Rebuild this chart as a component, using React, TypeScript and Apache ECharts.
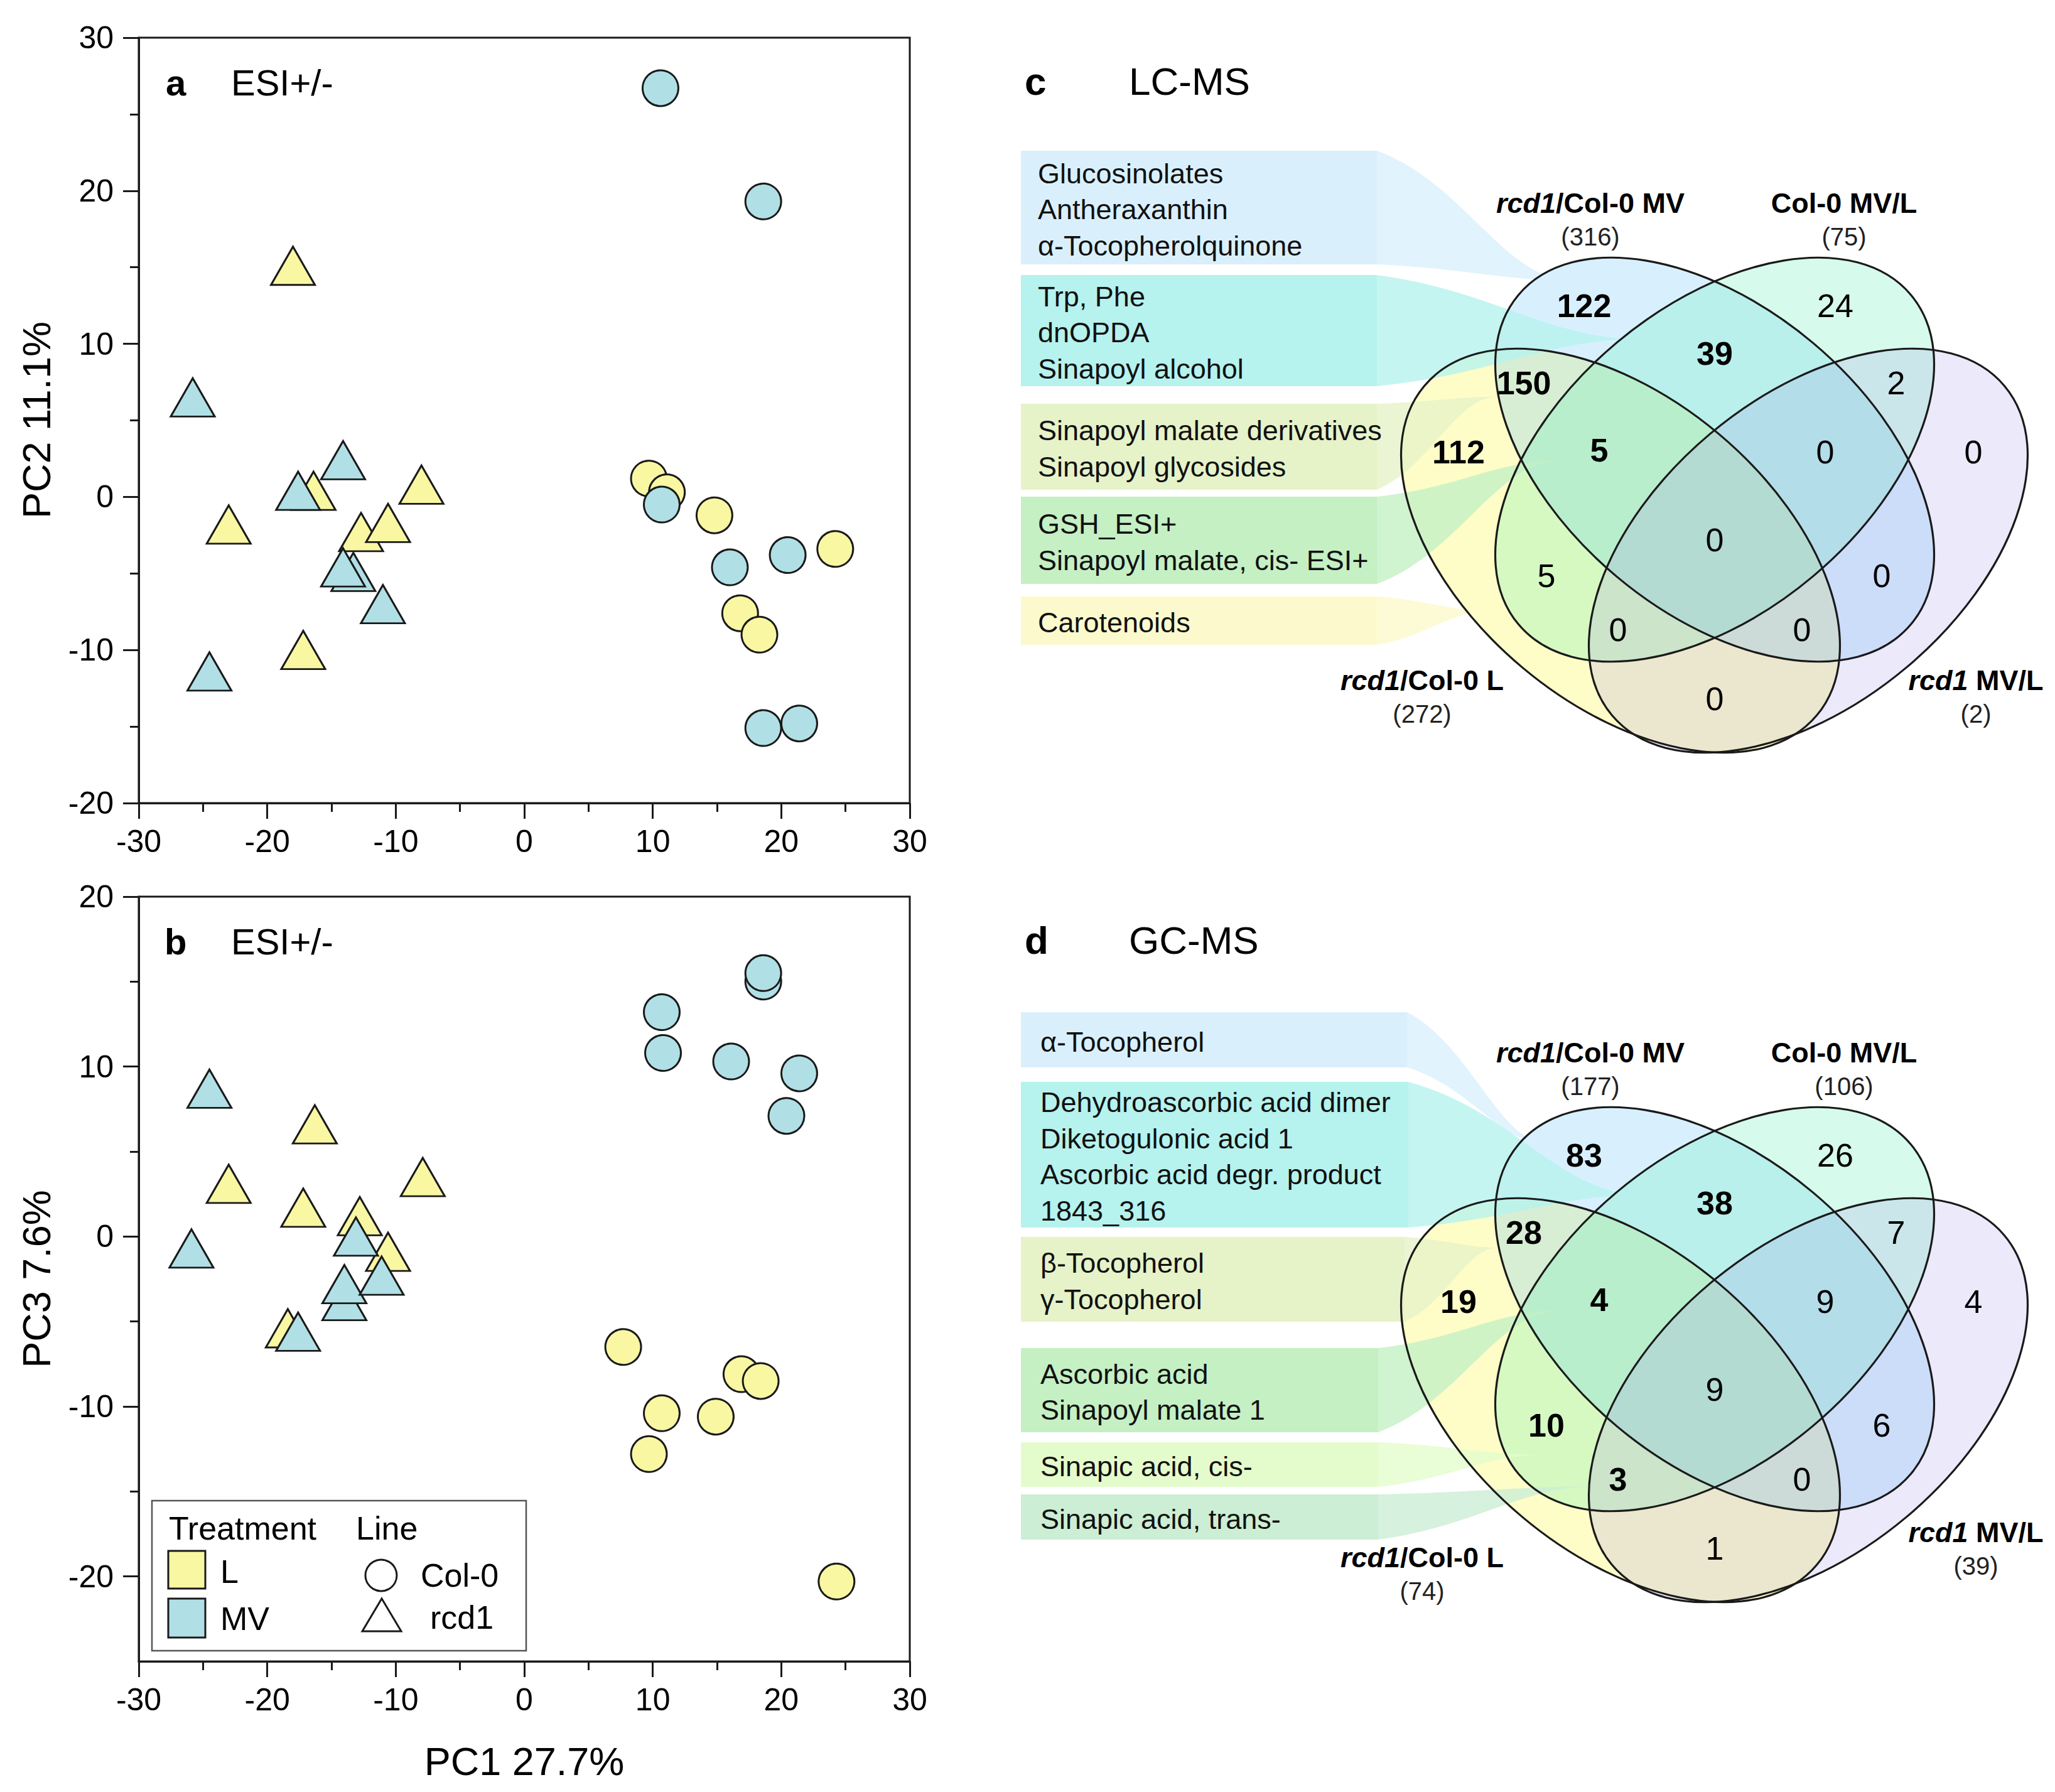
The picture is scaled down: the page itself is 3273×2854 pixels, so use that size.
import React, { useEffect, useRef } from "react";
import * as echarts from "echarts";

const W = 3273;
const H = 2854;
const FONT = '"Liberation Sans", Arial, Helvetica, sans-serif';
const YELLOW = "#f9f7a2";
const BLUE = "#b0e0e6";
const EDGE = "#1a1a1a";

// ---------- tick labels ----------
const xTickLabels = [-30, -20, -10, 0, 10, 20, 30];
const yTickLabelsA = [-20, -10, 0, 10, 20, 30];
const yTickLabelsB = [-20, -10, 0, 10, 20];

// ---------- panel a : PC1 vs PC2 ----------
const aL_col0 = [[9.7, 1.2], [11.1, 0.3], [14.8, -1.2], [24.2, -3.4], [16.8, -7.6], [18.3, -9.0]];
const aL_rcd1 = [[-18.0, 15.1], [-23.0, -1.8], [-16.4, 0.4], [-12.7, -2.3], [-10.6, -1.7], [-8.0, 0.8], [-17.2, -10.0]];
const aMV_rcd1 = [[-25.8, 6.5], [-14.1, 2.4], [-17.6, 0.4], [-13.3, -4.9], [-14.1, -4.6], [-11.0, -7.0], [-24.5, -11.4]];
const aMV_col0 = [[10.6, 26.7], [18.6, 19.3], [10.7, -0.5], [16.0, -4.6], [20.5, -3.8], [18.6, -15.1], [21.4, -14.8]];

// ---------- panel b : PC1 vs PC3 ----------
const bL_col0 = [[7.7, -6.5], [10.7, -10.4], [9.7, -12.8], [14.9, -10.6], [16.9, -8.1], [18.4, -8.5], [24.3, -20.3]];
const bL_rcd1 = [[-23.0, 3.1], [-16.3, 6.6], [-17.2, 1.7], [-12.8, 1.2], [-10.6, -0.9], [-7.9, 3.5], [-18.4, -5.4]];
const bMV_rcd1 = [[-24.5, 8.7], [-25.9, -0.7], [-13.1, 0.0], [-14.0, -3.8], [-14.0, -2.8], [-11.1, -2.3], [-17.6, -5.6]];
const bMV_col0 = [[10.7, 13.2], [10.8, 10.8], [16.1, 10.3], [18.6, 15.0], [18.6, 15.5], [21.4, 9.6], [20.4, 7.1]];

// ---------- Venn diagrams ----------
// set order: rcd1/Col-0 MV, Col-0 MV/L, rcd1/Col-0 L, rcd1 MV/L
const setLabels = [["rcd1", "/Col-0 MV"], ["", "Col-0 MV/L"], ["rcd1", "/Col-0 L"], ["rcd1", " MV/L"]];
const lcmsTotals = [316, 75, 272, 2];
const gcmsTotals = [177, 106, 74, 39];
const lcmsCounts = [122, 24, 39, 150, 2, 112, 5, 0, 0, 0, 5, 0, 0, 0, 0];
const gcmsCounts = [83, 26, 38, 28, 7, 19, 4, 9, 4, 9, 10, 6, 3, 0, 1];
const lcmsBold = [0, 2, 3, 5, 6];
const gcmsBold = [0, 2, 3, 5, 6, 10, 12];

const lcmsCallouts = [
  ["Glucosinolates", "Antheraxanthin", "α-Tocopherolquinone"],
  ["Trp, Phe", "dnOPDA", "Sinapoyl alcohol"],
  ["Sinapoyl malate derivatives", "Sinapoyl glycosides"],
  ["GSH_ESI+", "Sinapoyl malate, cis- ESI+"],
  ["Carotenoids"],
];
const gcmsCallouts = [
  ["α-Tocopherol"],
  ["Dehydroascorbic acid dimer", "Diketogulonic acid 1", "Ascorbic acid degr. product", "1843_316"],
  ["β-Tocopherol", "γ-Tocopherol"],
  ["Ascorbic acid", "Sinapoyl malate 1"],
  ["Sinapic acid, cis-"],
  ["Sinapic acid, trans-"],
];

// ---------- layout (positions / styles) ----------
const ANG = (40 * Math.PI) / 180;
const RX = 408;
const RY = 243;
const ellipseDefs = [
  { dx: -150, dy: 145, rot: -ANG, fill: "rgba(255,250,100,0.36)" },
  { dx: 0, dy: 0, rot: -ANG, fill: "rgba(100,195,250,0.25)" },
  { dx: 0, dy: 0, rot: ANG, fill: "rgba(90,240,180,0.25)" },
  { dx: 149, dy: 145, rot: ANG, fill: "rgba(165,155,230,0.22)" },
];
const regionOff = [
  [-208, -245], [192, -245], [0, -169], [-304, -122], [289, -122],
  [-408, -12], [-184, -15], [176, -12], [412, -12], [0, 128],
  [-268, 185], [266, 185], [-154, 271], [139, 271], [0, 381],
];

const lcmsBoxes = [
  { y0: 240, y1: 421, x1: 2193, color: "#d9f0fc", tip: [2505, 447] },
  { y0: 438, y1: 615, x1: 2193, color: "#b6f2ee", tip: [2612, 540] },
  { y0: 643, y1: 780, x1: 2193, color: "#e6f2c8", tip: [2385, 632] },
  { y0: 791, y1: 930, x1: 2193, color: "#c4f0c4", tip: [2487, 733] },
  { y0: 950, y1: 1027, x1: 2193, color: "#fcfacc", tip: [2373, 973] },
];
const gcmsBoxes = [
  { y0: 1612, y1: 1700, x1: 2241, color: "#d9f0fc", tip: [2468, 1823] },
  { y0: 1723, y1: 1955, x1: 2243, color: "#b6f2ee", tip: [2615, 1903] },
  { y0: 1970, y1: 2105, x1: 2237, color: "#e6f2c8", tip: [2387, 1987] },
  { y0: 2147, y1: 2281, x1: 2195, color: "#c4f0c4", tip: [2487, 2087] },
  { y0: 2297, y1: 2368, x1: 2195, color: "#e4fccc", tip: [2460, 2317] },
  { y0: 2380, y1: 2452, x1: 2195, color: "#cceed4", tip: [2545, 2367] },
];

function txt(x: number, y: number, text: string, size: number, extra: any = {}) {
  return {
    type: "text",
    x,
    y,
    silent: true,
    style: {
      text,
      fontSize: size,
      fontFamily: FONT,
      fill: "#000",
      align: "left",
      verticalAlign: "middle",
      ...extra,
    },
  };
}

function cubic(p0: number[], p1: number[], p2: number[], p3: number[], t: number) {
  const u = 1 - t;
  return [
    u * u * u * p0[0] + 3 * u * u * t * p1[0] + 3 * u * t * t * p2[0] + t * t * t * p3[0],
    u * u * u * p0[1] + 3 * u * u * t * p1[1] + 3 * u * t * t * p2[1] + t * t * t * p3[1],
  ];
}

function wedgePoints(x0: number, yT: number, yB: number, tx: number, ty: number) {
  const dx = tx - x0;
  const pts: number[][] = [[x0 - 2, yT]];
  const N = 30;
  const t0 = [x0, yT];
  const t1 = [x0 + 0.45 * dx, yT + 0.25 * (ty - yT)];
  const t2 = [x0 + 0.65 * dx, ty];
  const tip = [tx, ty];
  for (let i = 0; i <= N; i++) pts.push(cubic(t0, t1, t2, tip, i / N));
  const b1 = [x0 + 0.65 * dx, ty];
  const b2 = [x0 + 0.45 * dx, yB + 0.25 * (ty - yB)];
  const b3 = [x0, yB];
  for (let i = 1; i <= N; i++) pts.push(cubic(tip, b1, b2, b3, i / N));
  pts.push([x0 - 2, yB]);
  return pts;
}

function setLabelText(i: number) {
  const [it, rest] = setLabels[i];
  return (it ? "{i|" + it + "}" : "") + "{b|" + rest + "}";
}

function vennGraphics(
  cx: number,
  cy: number,
  counts: number[],
  bold: number[],
  totals: number[],
  boxes: any[],
  callouts: string[][],
  textX: number,
  lDy: number,
  rDy: number,
  title: [string, string],
  titleY: number
) {
  const els: any[] = [];
  ellipseDefs.forEach((e) => {
    els.push({
      type: "ellipse",
      x: cx + e.dx,
      y: cy + e.dy,
      rotation: e.rot,
      silent: true,
      shape: { cx: 0, cy: 0, rx: RX, ry: RY },
      style: { fill: e.fill, stroke: "none" },
    });
  });
  boxes.forEach((b) => {
    els.push({
      type: "rect",
      silent: true,
      shape: { x: 1626, y: b.y0, width: b.x1 - 1626, height: b.y1 - b.y0 },
      style: { fill: b.color },
    });
  });
  boxes.forEach((b) => {
    els.push({
      type: "polygon",
      silent: true,
      shape: { points: wedgePoints(b.x1, b.y0, b.y1, b.tip[0], b.tip[1]) },
      style: { fill: b.color, opacity: 0.8 },
    });
  });
  ellipseDefs.forEach((e) => {
    els.push({
      type: "ellipse",
      x: cx + e.dx,
      y: cy + e.dy,
      rotation: e.rot,
      silent: true,
      shape: { cx: 0, cy: 0, rx: RX, ry: RY },
      style: { fill: "none", stroke: EDGE, lineWidth: 3.2 },
    });
  });
  counts.forEach((v, i) => {
    els.push(
      txt(cx + regionOff[i][0], cy + regionOff[i][1], String(v), 52, {
        align: "center",
        fontWeight: bold.includes(i) ? "bold" : "normal",
      })
    );
  });
  const rich = {
    i: { fontStyle: "italic", fontWeight: "bold", fontSize: 45, fontFamily: FONT, fill: "#000" },
    b: { fontWeight: "bold", fontSize: 45, fontFamily: FONT, fill: "#000" },
  };
  const labelPos = [
    [-198, -409],
    [206, -409],
    [-466, lDy],
    [416, rDy],
  ];
  labelPos.forEach((p, i) => {
    els.push({
      type: "text",
      x: cx + p[0],
      y: cy + p[1],
      silent: true,
      style: {
        text: setLabelText(i),
        rich,
        fontSize: 45,
        fontFamily: FONT,
        align: "center",
        verticalAlign: "middle",
      },
    });
    els.push(
      txt(cx + p[0], cy + p[1] + 54, "(" + totals[i] + ")", 40, { align: "center", fill: "#222" })
    );
  });
  boxes.forEach((b, bi) => {
    const lines = callouts[bi];
    const mid = (b.y0 + b.y1) / 2 + 3;
    lines.forEach((s, li) => {
      els.push(txt(textX, mid + (li - (lines.length - 1) / 2) * 57.5, s, 45, { fill: "#111" }));
    });
  });
  els.push(txt(1632, titleY, title[0], 62, { fontWeight: "bold" }));
  els.push(txt(1798, titleY, title[1], 62));
  return els;
}

function legendGraphics() {
  const els: any[] = [];
  els.push({
    type: "rect",
    silent: true,
    shape: { x: 242, y: 2390, width: 596, height: 239 },
    style: { fill: "#fff", stroke: "#555", lineWidth: 2.5 },
  });
  els.push(txt(269, 2434, "Treatment", 52));
  els.push(txt(567, 2434, "Line", 52));
  els.push({
    type: "rect",
    silent: true,
    shape: { x: 268, y: 2470, width: 59, height: 60 },
    style: { fill: YELLOW, stroke: EDGE, lineWidth: 3 },
  });
  els.push({
    type: "rect",
    silent: true,
    shape: { x: 268, y: 2546, width: 59, height: 62 },
    style: { fill: BLUE, stroke: EDGE, lineWidth: 3 },
  });
  els.push(txt(351, 2503, "L", 52));
  els.push(txt(351, 2578, "MV", 52));
  els.push({
    type: "circle",
    silent: true,
    shape: { cx: 607, cy: 2509, r: 25 },
    style: { fill: "#fff", stroke: EDGE, lineWidth: 3 },
  });
  els.push({
    type: "polygon",
    silent: true,
    shape: { points: [[608, 2546], [639, 2598], [577, 2598]] },
    style: { fill: "#fff", stroke: EDGE, lineWidth: 3 },
  });
  els.push(txt(670, 2509, "Col-0", 52));
  els.push(txt(685, 2576, "rcd1", 52));
  return els;
}

function xAxis(gridIndex: number) {
  return {
    type: "value",
    gridIndex,
    min: -30,
    max: 30,
    interval: 10,
    axisLine: { show: true, onZero: false, lineStyle: { color: EDGE, width: 3 } },
    axisTick: { show: true, inside: false, length: 25, lineStyle: { color: EDGE, width: 3 } },
    minorTick: { show: true, splitNumber: 2, length: 14, lineStyle: { color: EDGE, width: 3 } },
    splitLine: { show: false },
    minorSplitLine: { show: false },
    axisLabel: {
      fontSize: 50,
      color: "#000",
      fontFamily: FONT,
      margin: 36,
      customValues: xTickLabels,
    },
  };
}

function scatter(name: string, data: number[][], idx: number, symbol: string, color: string) {
  return {
    type: "scatter",
    name,
    xAxisIndex: idx,
    yAxisIndex: idx,
    data,
    symbol,
    symbolSize: symbol === "circle" ? 57 : [70, 61],
    itemStyle: { color, borderColor: EDGE, borderWidth: 3, opacity: 1 },
    emphasis: { disabled: true },
    silent: true,
  };
}

function buildOption() {
  const graphics: any[] = [];
  graphics.push(txt(264, 131, "a", 58, { fontWeight: "bold" }));
  graphics.push(txt(368, 131, "ESI+/-", 58));
  graphics.push(txt(262, 1499, "b", 58, { fontWeight: "bold" }));
  graphics.push(txt(368, 1499, "ESI+/-", 58));
  const t1: any = txt(58, 669, "PC2 11.1%", 63, { align: "center" });
  t1.rotation = Math.PI / 2;
  graphics.push(t1);
  const t2: any = txt(58, 2037, "PC3 7.6%", 63, { align: "center" });
  t2.rotation = Math.PI / 2;
  graphics.push(t2);
  graphics.push(txt(835, 2805, "PC1 27.7%", 63, { align: "center" }));
  graphics.push(...legendGraphics());
  graphics.push(
    ...vennGraphics(2731, 732, lcmsCounts, lcmsBold, lcmsTotals, lcmsBoxes, lcmsCallouts, 1653, 351, 351, ["c", "LC-MS"], 129)
  );
  graphics.push(
    ...vennGraphics(2731, 2085, gcmsCounts, gcmsBold, gcmsTotals, gcmsBoxes, gcmsCallouts, 1657, 395, 355, ["d", "GC-MS"], 1497)
  );

  const minorB = yTickLabelsB.map((v) => v + 5).filter((v) => v < 20);

  return {
    animation: false,
    backgroundColor: "#fff",
    textStyle: { fontFamily: FONT },
    grid: [
      { left: 221, top: 60, width: 1228, height: 1219, show: true, borderColor: EDGE, borderWidth: 3 },
      { left: 221, top: 1428, width: 1228, height: 1218, show: true, borderColor: EDGE, borderWidth: 3 },
    ],
    xAxis: [xAxis(0), xAxis(1)],
    yAxis: [
      {
        type: "value",
        gridIndex: 0,
        min: -20,
        max: 30,
        interval: 10,
        axisLine: { show: true, onZero: false, lineStyle: { color: EDGE, width: 3 } },
        axisTick: { show: true, inside: false, length: 25, lineStyle: { color: EDGE, width: 3 } },
        minorTick: { show: true, splitNumber: 2, length: 14, lineStyle: { color: EDGE, width: 3 } },
        splitLine: { show: false },
        minorSplitLine: { show: false },
        axisLabel: { fontSize: 50, color: "#000", fontFamily: FONT, margin: 40, customValues: yTickLabelsA },
      },
      {
        type: "value",
        gridIndex: 1,
        position: "left",
        min: -25,
        max: 20,
        interval: 5,
        axisLine: { show: true, onZero: false, lineStyle: { color: EDGE, width: 3 } },
        axisTick: {
          show: true,
          inside: false,
          length: 25,
          customValues: yTickLabelsB,
          lineStyle: { color: EDGE, width: 3 },
        },
        minorTick: { show: false },
        splitLine: { show: false },
        axisLabel: { fontSize: 50, color: "#000", fontFamily: FONT, margin: 40, customValues: yTickLabelsB },
      },
      {
        type: "value",
        gridIndex: 1,
        position: "left",
        offset: 0,
        min: -25,
        max: 20,
        interval: 5,
        axisLine: { show: false, onZero: false },
        axisTick: {
          show: true,
          inside: false,
          length: 14,
          customValues: minorB,
          lineStyle: { color: EDGE, width: 3 },
        },
        minorTick: { show: false },
        splitLine: { show: false },
        axisLabel: { show: false },
      },
    ],
    series: [
      scatter("L Col-0", aL_col0, 0, "circle", YELLOW),
      scatter("L rcd1", aL_rcd1, 0, "triangle", YELLOW),
      scatter("MV rcd1", aMV_rcd1, 0, "triangle", BLUE),
      scatter("MV Col-0", aMV_col0, 0, "circle", BLUE),
      scatter("L Col-0", bL_col0, 1, "circle", YELLOW),
      scatter("L rcd1", bL_rcd1, 1, "triangle", YELLOW),
      scatter("MV rcd1", bMV_rcd1, 1, "triangle", BLUE),
      scatter("MV Col-0", bMV_col0, 1, "circle", BLUE),
    ],
    graphic: { elements: graphics },
  };
}

export default function App() {
  const ref = useRef<HTMLDivElement>(null);
  useEffect(() => {
    if (!ref.current) return;
    const chart = echarts.init(ref.current, null, { renderer: "svg", width: W, height: H });
    chart.setOption(buildOption() as any);
    return () => chart.dispose();
  }, []);
  return (
    <div
      ref={ref}
      style={{ position: "absolute", left: 0, top: 0, width: W, height: H, background: "#fff" }}
    />
  );
}
